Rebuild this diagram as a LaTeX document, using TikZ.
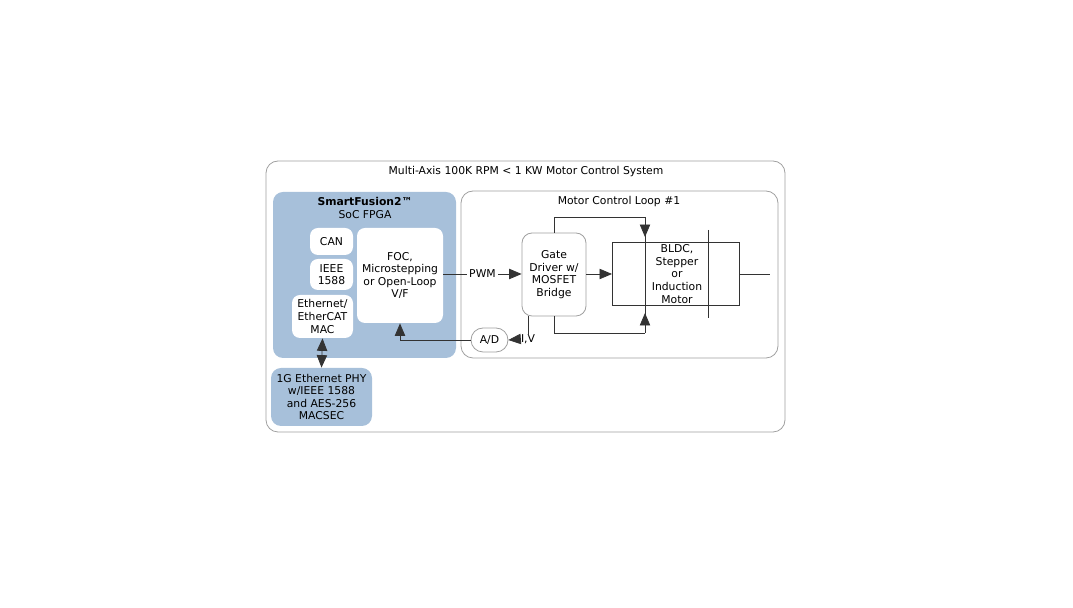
\documentclass[tikz,border=0pt]{standalone}
\usepackage{fontspec}
\setmainfont{DejaVu Sans}
\usetikzlibrary{arrows,positioning}
\definecolor{sfblue}{HTML}{A7C0DA}
\definecolor{frame}{HTML}{A0A0A0}
\tikzset{
  px/.style={x=0.5pt,y=-0.5pt},
  txt/.style={font=\fontsize{5.4}{6.3}\selectfont,align=center,inner sep=0pt},
  whitebox/.style={draw=none,fill=white,rounded corners=4pt,txt},
  bluebox/.style={fill=sfblue,rounded corners=5pt},
  graybox/.style={draw=frame,fill=white,rounded corners=5pt,txt},
  sig/.style={draw=black!80,line width=0.4pt},
  tip/.style={sig,-triangle 45}
}
\begin{document}
\begin{tikzpicture}[px]
  \useasboundingbox (0,0) rectangle (1073,608);
  %outer system frame
  \draw[frame,rounded corners=6pt] (266,161) rectangle (785,432);
  \node[txt] (systitle) at (526,172) {Multi-Axis 100K RPM < 1 KW Motor Control System};
  %SmartFusion2 FPGA
  \fill[bluebox] (273,192) rectangle (456,358);
  \node[txt] (sftitle) at (365,208) {\textbf{SmartFusion2™}\\SoC FPGA};
  \node[whitebox,minimum width=21.5pt,minimum height=13.5pt] (can) at (331.5,241.5) {CAN};
  \node[whitebox,minimum width=21.5pt,minimum height=15.5pt] (ieee) at (331.5,274.5) {IEEE\\1588};
  \node[whitebox,minimum width=30.5pt,minimum height=21.5pt] (mac) at (322.5,316.5) {Ethernet/\\EtherCAT\\MAC};
  \node[whitebox,minimum width=43pt,minimum height=47.5pt] (foc) at (400,275.5) {FOC,\\Microstepping\\or Open-Loop\\V/F};
  %PHY
  \node[fill=sfblue,rounded corners=5pt,txt,minimum width=50.5pt,minimum height=29pt] (phy) at (321.5,397) {1G Ethernet PHY\\w/IEEE 1588\\and AES-256\\MACSEC};
  \draw[sig,triangle 45-triangle 45] (mac.south) -- (phy.north);
  %motor control loop
  \draw[frame,rounded corners=6pt] (461,191) rectangle (778,358);
  \node[txt] (looptitle) at (619,202) {Motor Control Loop \#1};
  \node[graybox,minimum width=32pt,minimum height=41.5pt] (gate) at (554,274.5) {Gate\\Driver w/\\MOSFET\\Bridge};
  \node[draw=black!80,txt,minimum width=63.5pt,minimum height=31.5pt,anchor=north west] (motor) at (612,242) {};
  \node[txt] (motortxt) at (677,274) {BLDC,\\Stepper\\or\\Induction\\Motor};
  \node[graybox,rounded corners=6pt,minimum width=18.5pt,minimum height=12pt] (ad) at (489.5,340) {A/D};
  \node[txt] (iv) at (528,339) {I,V};
  \coordinate (shaft) at (770,274);
  \coordinate (ttop) at (645,217);
  \coordinate (tbot) at (645,333);
  \coordinate (ivtap) at (528,316);
  %signals
  \draw[tip] (foc.east |- 0,274) -- node[fill=white,txt,inner sep=1pt] {PWM} (gate.west |- 0,274);
  \draw[tip] (gate.east |- 0,274) -- (motor.west |- 0,274);
  \draw[sig] (motor.east |- 0,274) -- (shaft);
  \draw[sig] (gate.north) |- (ttop) -- (tbot);
  \draw[sig] (gate.south) |- (tbot);
  \draw[tip] (ttop) -- (645,237);
  \draw[tip] (tbot) -- (645,313);
  \draw[sig] (708,230) -- (708,318);
  \draw[sig] (ivtap) -- ([yshift=-1pt]iv.north);
  \draw[tip] (iv.west) -- (ad.east);
  \draw[tip] (ad.west) -| (foc.south);
\end{tikzpicture}
\end{document}
